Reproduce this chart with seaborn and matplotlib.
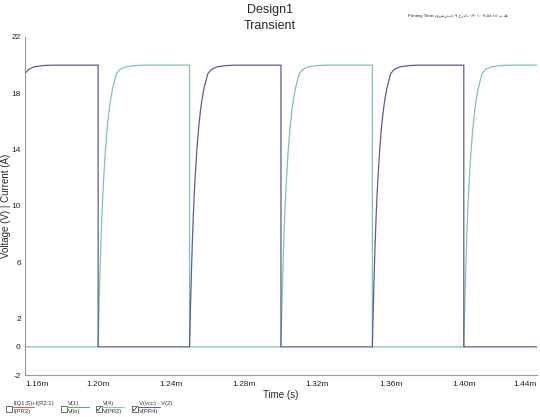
import numpy as np
import pandas as pd
import matplotlib
matplotlib.use('Agg')
import matplotlib.pyplot as plt
import seaborn as sns

# switching instants (ms)
pr2_rise_ms = [1.20, 1.30, 1.40]
pr2_fall_ms = [1.25, 1.35]
pr4_rise_ms = [1.15, 1.25, 1.35]
pr4_fall_ms = [1.20, 1.30, 1.40]
t_start_ms = 1.16
t_end_ms = 1.44

# shape of one rising edge: time after switch (us) and voltage (V)
rise_dt_us = [0, 0.5, 1, 1.5, 2, 2.5, 3, 4, 5, 6, 7, 8, 10, 12, 15, 20, 25]
rise_v = [0.0, 2.8, 5.2, 7.3, 9.1, 10.6, 11.9, 14.0, 15.6, 16.8, 17.7,
          18.4, 19.4, 19.7, 19.88, 19.97, 20.0]
low_v = 0.0

yticks_major = [-2, 0, 2, 6, 10, 14, 18, 22]
yticks_minor = [4, 8, 12, 16, 20]
xticks_major = [1.16, 1.20, 1.24, 1.28, 1.32, 1.36, 1.40, 1.44]
xticks_minor = [1.18, 1.22, 1.26, 1.30, 1.34, 1.38, 1.42]

teal = '#72c9b8'
navy = '#5c5a9c'


def build_wave(rises, falls):
    events = sorted([(t, 'r') for t in rises] + [(t, 'f') for t in falls])
    t_list, v_list = [], []
    for t0, kind in events:
        if kind == 'r':
            for dt, v in zip(rise_dt_us, rise_v):
                t_list.append(t0 + dt / 1000.0)
                v_list.append(v)
        else:
            t_list.append(t0)
            v_list.append(rise_v[-1])
            t_list.append(t0)
            v_list.append(low_v)
    t = np.array(t_list)
    v = np.array(v_list)
    # clip to window, keep level at both edges
    v0 = np.interp(t_start_ms, t, v)
    keep = (t >= t_start_ms) & (t <= t_end_ms)
    t = np.concatenate([[t_start_ms], t[keep], [t_end_ms]])
    v = np.concatenate([[v0], v[keep], [v[keep][-1]]])
    return t, v


t2, v2 = build_wave(pr2_rise_ms, pr2_fall_ms)
t4, v4 = build_wave(pr4_rise_ms, pr4_fall_ms)
df2 = pd.DataFrame({'t': t2, 'v': v2})
df4 = pd.DataFrame({'t': t4, 'v': v4})

sns.set_style('white')
plt.rcParams['font.family'] = ['Liberation Sans', 'DejaVu Sans']

fig = plt.figure(figsize=(5.4, 4.17), dpi=100)
ax = fig.add_axes([0.0463, 0.1007, 0.948, 0.8106])

sns.lineplot(data=df2, x='t', y='v', ax=ax, color=teal, lw=0.9,
             estimator=None, sort=False)
sns.lineplot(data=df4, x='t', y='v', ax=ax, color=navy, lw=0.9,
             estimator=None, sort=False)

ax.set_xlim(t_start_ms, t_end_ms)
ax.set_ylim(-2, 22)
ax.set_yticks(yticks_major)
ax.set_yticks(yticks_minor, minor=True)
ax.set_xticks(xticks_major)
ax.set_xticks(xticks_minor, minor=True)
ax.set_xticklabels(['%.2fm' % x for x in xticks_major])
ax.set_yticklabels([str(y) for y in yticks_major])
ax.tick_params(axis='both', which='both', direction='out', colors='#777777',
               labelcolor='#222222', labelsize=6, length=2, width=0.6, pad=2)
ax.tick_params(axis='y', which='both', pad=1)
xl = ax.get_xticklabels()
xl[0].set_ha('left')
xl[-1].set_ha('right')
for s in ['top', 'right']:
    ax.spines[s].set_visible(False)
for s in ['left', 'bottom']:
    ax.spines[s].set_color('#999999')
    ax.spines[s].set_linewidth(0.8)

ax.set_xlabel('Time (s)', fontsize=7, labelpad=2)
ax.set_ylabel('Voltage (V) | Current (A)', fontsize=7)
ax.yaxis.set_label_coords(-0.027, 0.5)

fig.text(0.5, 0.977, 'Design1', ha='center', va='center', fontsize=9)
fig.text(0.5, 0.938, 'Transient', ha='center', va='center', fontsize=9)
fig.text(0.848, 0.962, 'Printing Time:دوشنبه ۹ خرداد ۱۴۰۱ ۰۹:۵۸:۱۸ ب.ظ',
         ha='center', va='center', fontsize=3.2)

# legend strip at the bottom
legend_items = [
    ('I(Q1:S)+I(R2:1)', 'I(PR3)', '#e05050', False),
    ('V(1)', 'V(in)', '#50b050', False),
    ('V(4)', 'V(PR2)', teal, True),
    ('V(vcc) - V(2)', 'V(PR4)', navy, True),
]
legend_x = [6, 61, 96, 132]
for (top, bot, col, checked), px in zip(legend_items, legend_x):
    fx = px / 540.0
    box = plt.Rectangle((fx, 1 - 412 / 417.0), 6 / 540.0, 6 / 417.0,
                        transform=fig.transFigure, fill=False,
                        ec='#555555', lw=0.6)
    fig.add_artist(box)
    if checked:
        fig.text(fx + 3 / 540.0, 1 - 409 / 417.0, '✓', ha='center',
                 va='center', fontsize=5.5, color='#222222',
                 family=['DejaVu Sans'])
    fig.text(fx + 7 / 540.0, 1 - 403 / 417.0, top, fontsize=4.2,
             va='center', ha='left', color='#333333')
    fig.add_artist(plt.Line2D([fx + 6 / 540.0, fx + 28 / 540.0],
                              [1 - 407 / 417.0, 1 - 407 / 417.0],
                              transform=fig.transFigure, color=col, lw=0.7))
    fig.text(fx + 7 / 540.0, 1 - 411.5 / 417.0, bot, fontsize=4.2,
             va='center', ha='left', color='#333333')

fig.savefig('out.png', dpi=100)
